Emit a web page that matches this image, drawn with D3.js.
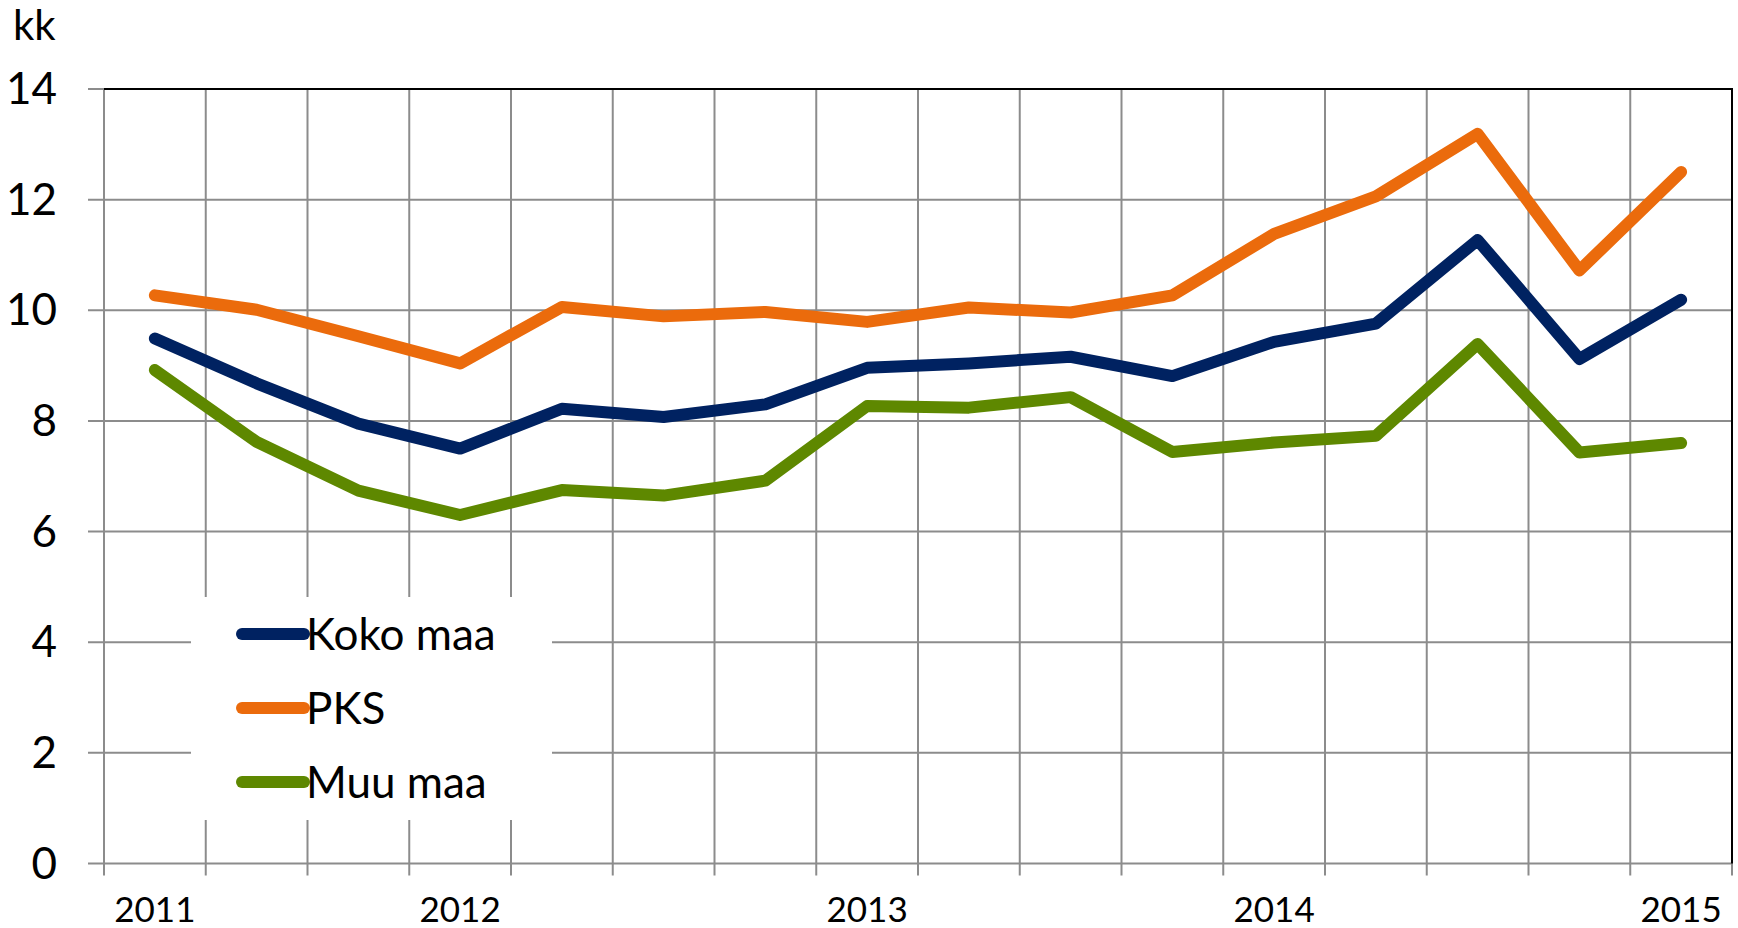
<!DOCTYPE html>
<html>
<head>
<meta charset="utf-8">
<script src="https://cdn.jsdelivr.net/npm/d3@7"></script>
<style>
  html, body { margin: 0; padding: 0; background: #fff; }
  svg { display: block; font-family: Lato, "Open Sans", sans-serif; }
</style>
</head>
<body>
<svg id="chart" width="1738" height="928"></svg>
<script>
// ---- data ----
const categories = ["2011", "", "", "2012", "", "", "", "2013", "", "", "", "2014", "", "", "", "2015"];
const kokoMaa = [9.49, 8.68, 7.95, 7.50, 8.22, 8.07, 8.30, 8.96, 9.04, 9.16, 8.81, 9.43, 9.76, 11.27, 9.12, 10.19];
const pks     = [10.27, 10.01, 9.53, 9.04, 10.06, 9.89, 9.97, 9.79, 10.05, 9.96, 10.27, 11.38, 12.06, 13.19, 10.72, 12.50];
const muuMaa  = [8.92, 7.62, 6.74, 6.30, 6.75, 6.65, 6.92, 8.27, 8.24, 8.43, 7.44, 7.61, 7.73, 9.39, 7.43, 7.60];
const yTicks = [0, 2, 4, 6, 8, 10, 12, 14];
const seriesNames = ["Koko maa", "PKS", "Muu maa"];
const seriesColors = ["#002261", "#EB6B0C", "#5E8800"];
const unitLabel = "kk";

// ---- layout ----
const L = 104, R = 1732, T = 89, B = 863.5;
const grid = "#8c8c8c";
const svg = d3.select("#chart");

const x = d3.scaleBand().domain(d3.range(categories.length)).range([L, R]).padding(0);
const y = d3.scaleLinear().domain([0, 14]).range([B, T]);

// vertical gridlines + bottom ticks at band boundaries
const bounds = d3.range(categories.length + 1).map(i => L + i * x.bandwidth());
svg.append("g").selectAll("line").data(bounds).join("line")
  .attr("x1", d => d).attr("x2", d => d)
  .attr("y1", T).attr("y2", B + 12)
  .attr("stroke", grid).attr("stroke-width", 2);

// horizontal gridlines + left ticks
svg.append("g").selectAll("line").data(yTicks).join("line")
  .attr("x1", L - 16).attr("x2", R)
  .attr("y1", d => y(d)).attr("y2", d => y(d))
  .attr("stroke", grid).attr("stroke-width", 2);

// top & right border
svg.append("line").attr("x1", L).attr("x2", R + 1).attr("y1", T).attr("y2", T)
  .attr("stroke", "#000").attr("stroke-width", 2);
svg.append("line").attr("x1", R).attr("x2", R).attr("y1", T).attr("y2", B)
  .attr("stroke", "#000").attr("stroke-width", 2);

// y labels
svg.append("g").selectAll("text").data(yTicks).join("text")
  .attr("x", 57).attr("y", d => y(d) + 15)
  .attr("text-anchor", "end").attr("font-size", 44).attr("fill", "#000")
  .text(d => d);

// unit label
svg.append("text").attr("x", 13).attr("y", 40).attr("font-size", 42).attr("fill", "#000").text(unitLabel);

// x labels
svg.append("g").selectAll("text").data(categories.map((c, i) => ({c, i})).filter(d => d.c !== "")).join("text")
  .attr("x", d => x(d.i) + x.bandwidth() / 2).attr("y", 922)
  .attr("text-anchor", "middle").attr("font-size", 35).attr("fill", "#000")
  .text(d => d.c);

// legend background
svg.append("rect").attr("x", 191).attr("y", 597).attr("width", 361).attr("height", 223).attr("fill", "#fff");

// series lines
const allSeries = [kokoMaa, pks, muuMaa];
const line = d3.line().x((d, i) => x(i) + x.bandwidth() / 2).y(d => y(d));
allSeries.forEach((s, k) => {
  svg.append("path").datum(s).attr("d", line)
    .attr("fill", "none").attr("stroke", seriesColors[k]).attr("stroke-width", 12)
    .attr("stroke-linejoin", "round").attr("stroke-linecap", "round");
});

// legend
const lg = svg.append("g");
seriesNames.forEach((n, k) => {
  const cy = 634 + k * 74;
  lg.append("line").attr("x1", 242).attr("x2", 304).attr("y1", cy).attr("y2", cy)
    .attr("stroke", seriesColors[k]).attr("stroke-width", 12).attr("stroke-linecap", "round");
  lg.append("text").attr("x", 306).attr("y", cy + 16).attr("font-size", 44).attr("fill", "#000").text(n);
});
</script>
</body>
</html>
